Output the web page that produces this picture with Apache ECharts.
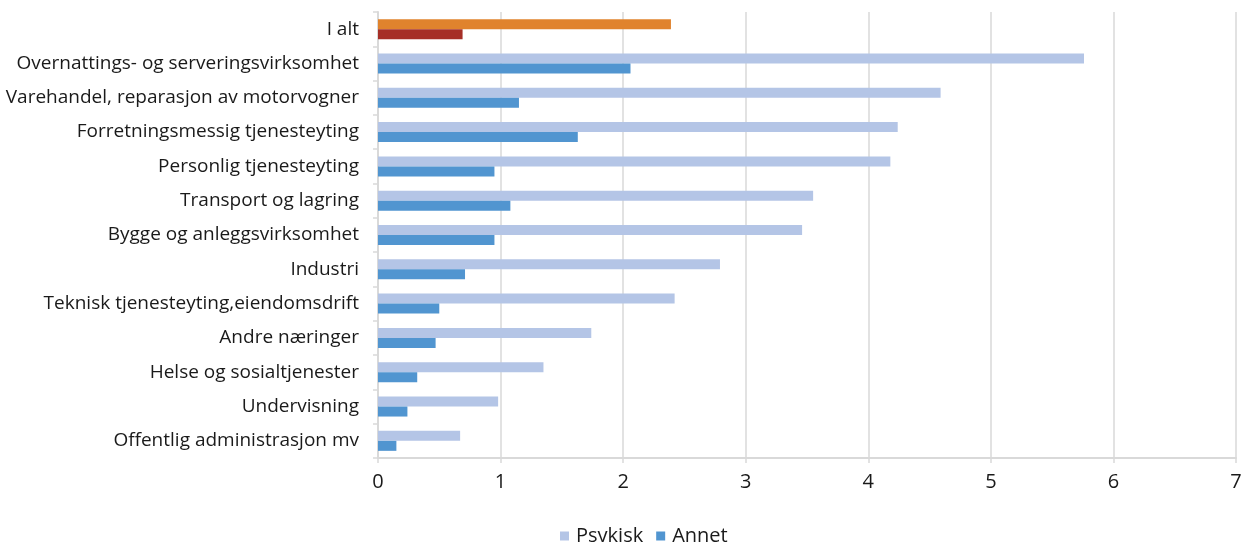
<!DOCTYPE html>
<html>
<head>
<meta charset="utf-8">
<script src="https://cdn.jsdelivr.net/npm/echarts@6/dist/echarts.min.js"></script>
<style>html,body{margin:0;padding:0;background:#fff}#c{width:1242px;height:542px}</style>
</head>
<body>
<div id="c"></div>
<script>
const categories = [
  "I alt",
  "Overnattings- og serveringsvirksomhet",
  "Varehandel, reparasjon av motorvogner",
  "Forretningsmessig tjenesteyting",
  "Personlig tjenesteyting",
  "Transport og lagring",
  "Bygge og anleggsvirksomhet",
  "Industri",
  "Teknisk tjenesteyting,eiendomsdrift",
  "Andre næringer",
  "Helse og sosialtjenester",
  "Undervisning",
  "Offentlig administrasjon mv"
];
const psykisk = [2.39, 5.76, 4.59, 4.24, 4.18, 3.55, 3.46, 2.79, 2.42, 1.74, 1.35, 0.98, 0.67];
const annet   = [0.69, 2.06, 1.15, 1.63, 0.95, 1.08, 0.95, 0.71, 0.50, 0.47, 0.32, 0.24, 0.15];
const xTicks = [0, 1, 2, 3, 4, 5, 6, 7];

const colPsy = '#b4c5e6', colAnn = '#5195d0', colPsyTot = '#e0832d', colAnnTot = '#a62f27';
const font = "'Open Sans', 'Noto Sans', sans-serif";

function withTotal(arr, c) {
  return arr.map((v, i) => i === 0 ? { value: v, itemStyle: { color: c } } : v);
}

const chart = echarts.init(document.getElementById('c'), null, { renderer: 'canvas' });
chart.setOption({
  animation: false,
  grid: { left: 378, right: 6, top: 12, bottom: 84, containLabel: false, outerBoundsMode: 'none' },
  xAxis: {
    type: 'value', min: xTicks[0], max: xTicks[xTicks.length - 1], interval: 1,
    axisLine: { show: true, lineStyle: { color: '#d9d9d9', width: 2 } },
    axisTick: { show: true, length: 5, lineStyle: { color: '#d9d9d9', width: 1.5 } },
    splitLine: { show: true, lineStyle: { color: '#d9d9d9', width: 1.5 } },
    axisLabel: { color: '#1a1a1a', fontSize: 20, fontFamily: font, margin: 14 }
  },
  yAxis: {
    type: 'category', data: categories, inverse: true,
    axisLine: { show: true, lineStyle: { color: '#d9d9d9', width: 2 } },
    axisTick: { show: true, length: 5, lineStyle: { color: '#d9d9d9', width: 1.5 } },
    axisLabel: { color: '#1a1a1a', fontSize: 19, fontFamily: font, margin: 19, padding: [3, 0, 0, 0] }
  },
  legend: {
    top: 521, left: 555, itemWidth: 9, itemHeight: 9, itemGap: 13,
    icon: 'rect',
    textStyle: { color: '#1a1a1a', fontSize: 20, lineHeight: 20, fontFamily: font, padding: [0, 0, 0, 2] },
    data: ['Psykisk', 'Annet']
  },
  series: [
    { name: 'Psykisk', type: 'bar', data: withTotal(psykisk, colPsyTot), barWidth: 10, barGap: '0%',
      itemStyle: { color: colPsy } },
    { name: 'Annet', type: 'bar', data: withTotal(annet, colAnnTot), barWidth: 10, barGap: '0%',
      itemStyle: { color: colAnn } }
  ]
});
</script>
</body>
</html>
